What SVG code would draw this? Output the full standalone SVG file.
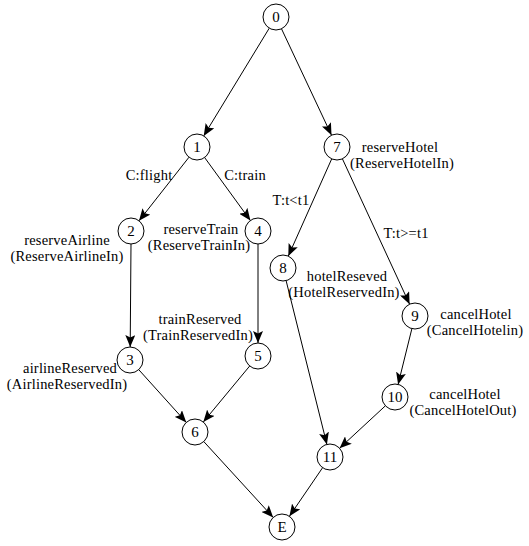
<svg xmlns="http://www.w3.org/2000/svg" width="529" height="546" viewBox="0 0 529 546">
<defs>
<style>
.n circle{fill:#fff;stroke:#000;stroke-width:1}
.n text{font-family:"Liberation Serif","Times New Roman",serif;font-size:15px;text-anchor:middle;fill:#000}
.lbl{font-family:"Liberation Serif","Times New Roman",serif;font-size:14.5px;letter-spacing:0.2px;fill:#000;text-anchor:middle}
#edges line{stroke:#000;stroke-width:1;fill:none;marker-end:url(#arr)}
</style>
<marker id="arr" markerUnits="userSpaceOnUse" markerWidth="13" markerHeight="10" refX="12" refY="5" orient="auto">
<path d="M0,0 L12,5 L0,10 L2.5,5 z" fill="#000"/>
</marker>
</defs>
<rect width="529" height="546" fill="#fff"/>
<g id="edges">
<line x1="269.3" y1="28.1" x2="203.7" y2="135.9"/>
<line x1="281.5" y1="28.8" x2="331.5" y2="135.2"/>
<line x1="189.0" y1="157.2" x2="139.0" y2="220.8"/>
<line x1="204.6" y1="157.5" x2="250.4" y2="220.5"/>
<line x1="131" y1="244" x2="130.2" y2="347"/>
<line x1="258" y1="244" x2="258" y2="343"/>
<line x1="138.7" y1="369.6" x2="186.3" y2="422.4"/>
<line x1="249.7" y1="366" x2="203.3" y2="422"/>
<line x1="331.7" y1="158.9" x2="288.3" y2="256.1"/>
<line x1="342.4" y1="158.8" x2="409.6" y2="304.2"/>
<line x1="286.1" y1="280.6" x2="326.9" y2="444.4"/>
<line x1="411.9" y1="328.6" x2="398.1" y2="384.4"/>
<line x1="385.4" y1="405.8" x2="339.6" y2="448.2"/>
<line x1="203.8" y1="441.6" x2="273.2" y2="517.4"/>
<line x1="322.6" y1="467.7" x2="289.4" y2="516.3"/>
</g>
<g id="node-0" class="n"><circle cx="276" cy="17" r="13"/><text x="276" y="22">0</text></g>
<g id="node-1" class="n"><circle cx="197" cy="147" r="13"/><text x="197" y="152">1</text></g>
<g id="node-7" class="n"><circle cx="337" cy="147" r="13"/><text x="337" y="152">7</text></g>
<g id="node-2" class="n"><circle cx="131" cy="231" r="13"/><text x="131" y="236">2</text></g>
<g id="node-4" class="n"><circle cx="258" cy="231" r="13"/><text x="258" y="236">4</text></g>
<g id="node-3" class="n"><circle cx="130" cy="360" r="13"/><text x="130" y="365">3</text></g>
<g id="node-5" class="n"><circle cx="258" cy="356" r="13"/><text x="258" y="361">5</text></g>
<g id="node-6" class="n"><circle cx="195" cy="432" r="13"/><text x="195" y="437">6</text></g>
<g id="node-8" class="n"><circle cx="283" cy="268" r="13"/><text x="283" y="273">8</text></g>
<g id="node-9" class="n"><circle cx="415" cy="316" r="13"/><text x="415" y="321">9</text></g>
<g id="node-10" class="n"><circle cx="395" cy="397" r="13"/><text x="395" y="402">10</text></g>
<g id="node-11" class="n"><circle cx="330" cy="457" r="13"/><text x="330" y="462">11</text></g>
<g id="node-E" class="n"><circle cx="282" cy="527" r="13"/><text x="282" y="532">E</text></g>
<g id="labels">
<text class="lbl" x="149" y="180">C:flight</text>
<text class="lbl" x="245" y="180">C:train</text>
<text class="lbl" x="67" y="245">reserveAirline</text>
<text class="lbl" x="67" y="261">(ReserveAirlineIn)</text>
<text class="lbl" x="201" y="234">reserveTrain</text>
<text class="lbl" x="199" y="250">(ReserveTrainIn)</text>
<text class="lbl" x="400" y="152">reserveHotel</text>
<text class="lbl" x="402" y="168">(ReserveHotelIn)</text>
<text class="lbl" x="291" y="205">T:t&lt;t1</text>
<text class="lbl" x="406" y="238">T:t&gt;=t1</text>
<text class="lbl" x="347" y="281">hotelReseved</text>
<text class="lbl" x="344" y="297">(HotelReservedIn)</text>
<text class="lbl" x="200" y="324">trainReserved</text>
<text class="lbl" x="198" y="340">(TrainReservedIn)</text>
<text class="lbl" x="70" y="373">airlineReserved</text>
<text class="lbl" x="67" y="389">(AirlineReservedIn)</text>
<text class="lbl" x="476" y="319">cancelHotel</text>
<text class="lbl" x="475" y="335">(CancelHotelin)</text>
<text class="lbl" x="465" y="399">cancelHotel</text>
<text class="lbl" x="463" y="415">(CancelHotelOut)</text>
</g>
</svg>
